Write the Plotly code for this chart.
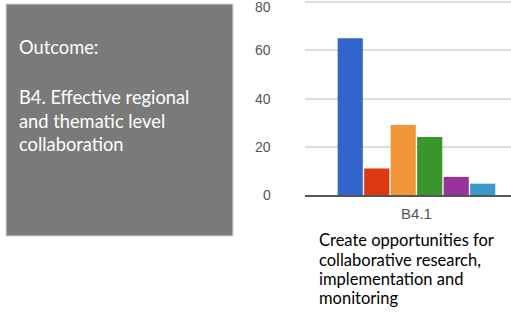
import plotly.graph_objects as go

categories = ["B4.1"]
series_names = ["S1", "S2", "S3", "S4", "S5", "S6"]
series_values = [65, 11, 29, 24, 7.5, 4.7]
series_colors = ["#3366CC", "#DC3912", "#F2963A", "#3A962A", "#993399", "#3A99C9"]
y_ticks = [0, 20, 40, 60, 80]
box_lines = ["Outcome:", "B4. Effective regional", "and thematic level", "collaboration"]
desc_lines = ["Create opportunities for", "collaborative research,", "implementation and", "monitoring"]

W, H = 511, 312

fig = go.Figure()
for name, val, col in zip(series_names, series_values, series_colors):
    fig.add_trace(go.Bar(x=categories, y=[val], name=name, marker=dict(color=col, line=dict(width=0))))

def px_x(p):
    return p / W

def px_y(p):
    return 1 - p / H

y_top = 80 + 2 * 80 / 193.0

fig.update_layout(
    width=W, height=H, autosize=False,
    margin=dict(l=0, r=0, t=0, b=0),
    paper_bgcolor="white", plot_bgcolor="white",
    showlegend=False,
    barmode="group", bargap=0.287, bargroupgap=0.05,
    xaxis=dict(domain=[px_x(305), 1], range=[-0.5, 0.424], showgrid=False,
               showline=True, linecolor="#555555", linewidth=1.5,
               ticks="", ticklabelstandoff=4,
               tickfont=dict(family="Liberation Sans, Arial", size=15, color="#555555")),
    yaxis=dict(domain=[px_y(195), 1], range=[0, y_top], tickvals=y_ticks,
               showgrid=True, gridcolor="#dddddd", gridwidth=1.5, zeroline=False,
               showline=False, ticks="", showticklabels=False),
    font=dict(family="Lato"),
)

for v in y_ticks:
    fig.add_annotation(x=px_x(273), y=v, xref="paper", yref="y",
                       text=str(v), showarrow=False, xanchor="right", yanchor="middle",
                       yshift=-5 if v == y_ticks[-1] else 0,
                       font=dict(family="Liberation Sans, Arial", size=14, color="#555555"))

fig.add_shape(type="rect", xref="paper", yref="paper",
              x0=px_x(6), x1=px_x(233), y0=px_y(236), y1=px_y(4),
              fillcolor="#7a7a7a", line=dict(color="#d8d8d8", width=1), layer="below")

ys = [47, 97, 121, 144]
for txt, yy in zip(box_lines, ys):
    fig.add_annotation(x=px_x(17), y=px_y(yy), xref="paper", yref="paper",
                       text=txt, showarrow=False, xanchor="left", yanchor="middle",
                       font=dict(family="Lato", size=18.3, color="white"))

dys = [240, 259.5, 279, 298]
for txt, yy in zip(desc_lines, dys):
    fig.add_annotation(x=px_x(317), y=px_y(yy), xref="paper", yref="paper",
                       text=txt, showarrow=False, xanchor="left", yanchor="middle",
                       font=dict(family="Lato", size=16.5, color="black"))

post = (
    "document.documentElement.style.margin='0';"
    "document.body.style.margin='0';"
    "document.body.style.overflow='hidden';"
    "document.documentElement.style.overflow='hidden';"
    "var d=document.querySelector('.plotly-graph-div');"
    "d.style.position='fixed';d.style.top='0px';d.style.left='0px';"
)

fig.write_html("out.html",
               config={"displayModeBar": False, "responsive": False},
               post_script=post)
